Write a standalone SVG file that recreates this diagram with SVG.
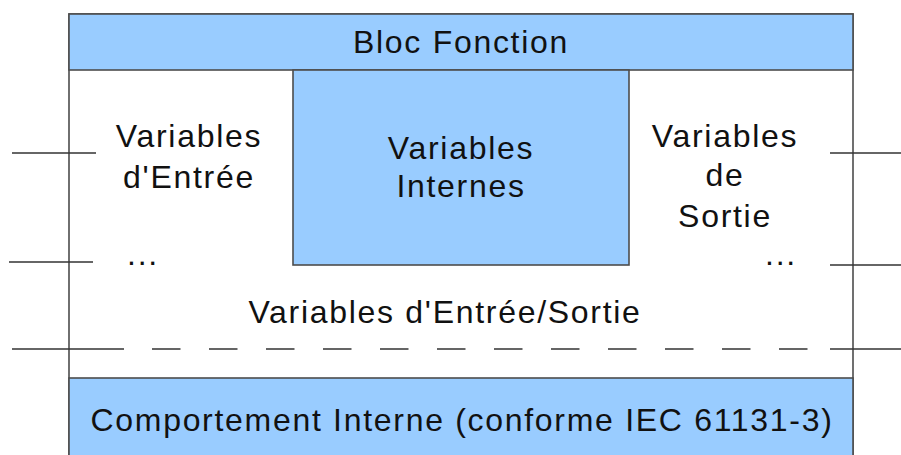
<svg xmlns="http://www.w3.org/2000/svg" width="901" height="455" viewBox="0 0 901 455">
<style>
.t{font-family:"Liberation Sans",Arial,sans-serif;font-size:32px;letter-spacing:1.7px;fill:#111;text-anchor:middle}
.box{stroke:#4d4d4d;stroke-width:1.6}
.blue{fill:#99ccff}
.ln{stroke:#333;stroke-width:1.4;fill:none}
</style>
<rect width="901" height="455" fill="#fff"/>
<g id="bloc">
<rect class="box" x="69" y="14" width="784" height="470" fill="#fff"/>
</g>
<g id="header">
<rect class="box blue" x="69" y="14" width="784" height="56"/>
<text class="t" x="461" y="53">Bloc Fonction</text>
</g>
<g id="internes">
<rect class="box blue" x="293" y="70" width="336" height="195"/>
<text class="t" x="461" y="159">Variables</text>
<text class="t" x="461" y="197">Internes</text>
</g>
<g id="entree">
<text class="t" x="189" y="147">Variables</text>
<text class="t" x="189" y="188">d'Entrée</text>
<text class="t" x="143" y="265">...</text>
</g>
<g id="sortie">
<text class="t" x="725" y="147">Variables</text>
<text class="t" x="725" y="186">de</text>
<text class="t" x="725" y="227">Sortie</text>
<text class="t" x="781" y="265">...</text>
</g>
<g id="entree-sortie">
<text class="t" x="445" y="323">Variables d'Entrée/Sortie</text>
</g>
<g id="comportement">
<rect class="box blue" x="69" y="378" width="784" height="100"/>
<text class="t" x="462" y="431">Comportement Interne (conforme IEC 61131-3)</text>
</g>
<g id="connectors">
<line class="ln" x1="12" y1="153" x2="96" y2="153"/>
<line class="ln" x1="9" y1="262" x2="93" y2="262"/>
<line class="ln" x1="830" y1="153" x2="901" y2="153"/>
<line class="ln" x1="830" y1="265" x2="901" y2="265"/>
<line class="ln" x1="12" y1="349" x2="124" y2="349"/>
<line class="ln" x1="152" y1="349" x2="808" y2="349" stroke-dasharray="28.5 28.5"/>
<line class="ln" x1="830" y1="349" x2="901" y2="349"/>
</g>
</svg>
